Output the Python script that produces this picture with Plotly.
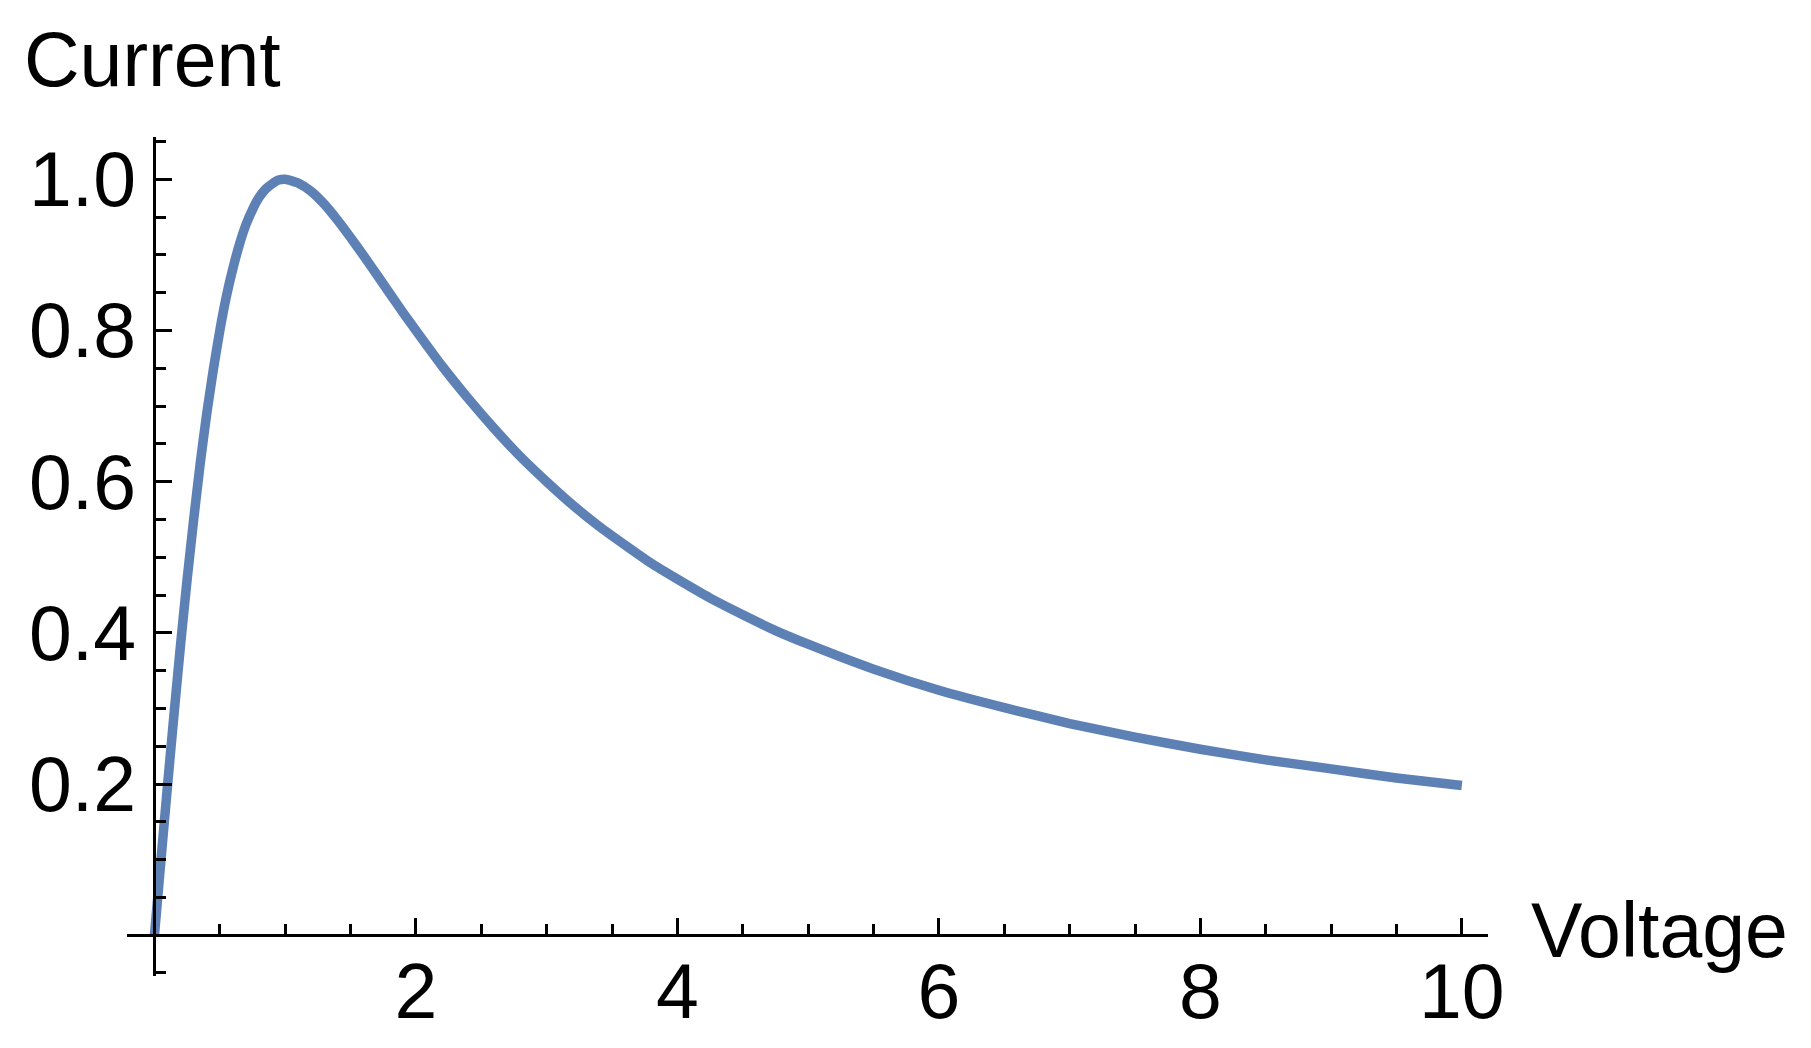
import plotly.graph_objects as go

# Data
voltage = [0, 0.05, 0.1, 0.15, 0.2, 0.25, 0.3, 0.35, 0.4, 0.45, 0.5, 0.55, 0.6, 0.65, 0.7,
           0.75, 0.8, 0.85, 0.9, 0.95, 1.0, 1.1, 1.2, 1.3, 1.4, 1.5, 1.6, 1.7, 1.8, 1.9,
           2.0, 2.2, 2.4, 2.6, 2.8, 3.0, 3.2, 3.4, 3.6, 3.8, 4.0, 4.25, 4.5, 4.75, 5.0,
           5.5, 6.0, 6.5, 7.0, 7.5, 8.0, 8.5, 9.0, 9.5, 10.0]
current = [0, 0.100, 0.198, 0.293, 0.385, 0.471, 0.550, 0.624, 0.690, 0.748, 0.800, 0.845, 0.882, 0.914, 0.940,
           0.960, 0.976, 0.987, 0.994, 0.999, 1.000, 0.995, 0.984, 0.967, 0.946, 0.923, 0.899, 0.874, 0.849, 0.824,
           0.800, 0.753, 0.710, 0.670, 0.633, 0.600, 0.569, 0.541, 0.516, 0.492, 0.471, 0.446, 0.424, 0.403, 0.385,
           0.352, 0.324, 0.301, 0.280, 0.262, 0.246, 0.232, 0.220, 0.208, 0.198]

x_ticks = [2, 4, 6, 8, 10]
x_ticklabels = ["2", "4", "6", "8", "10"]
y_ticks = [0.2, 0.4, 0.6, 0.8, 1.0]
y_ticklabels = ["0.2", "0.4", "0.6", "0.8", "1.0"]

x_title = "Voltage"
y_title = "Current"

# Layout geometry (pixels, page coordinates; the page body adds an 8px offset)
OFF = 8
W_FIG, H_FIG = 1811, 1048
PLOT_L, PLOT_R, PLOT_T, PLOT_B = 127 - OFF, 1488 - OFF, 137 - OFF, 976 - OFF
L, R, T, B = PLOT_L, W_FIG - PLOT_R, PLOT_T, H_FIG - PLOT_B
PW = W_FIG - L - R
PH = H_FIG - T - B
x_range = [-0.21, 10.2]
y_range = [-0.054, 1.056]

def px_x(p):
    return (p - OFF - L) / PW

def px_y(p):
    return (T + PH - (p - OFF)) / PH

FONT = "Liberation Sans, Arial, Helvetica, sans-serif"
LINE_COLOR = "#5E81B5"

fig = go.Figure()
fig.add_trace(go.Scatter(
    x=voltage, y=current, mode="lines",
    line=dict(color=LINE_COLOR, width=9.5, shape="spline", smoothing=0.5),
    showlegend=False, hoverinfo="skip",
))

pos_x_axis = (0 - y_range[0]) / (y_range[1] - y_range[0])
pos_y_axis = (0 - x_range[0]) / (x_range[1] - x_range[0])

fig.update_layout(
    width=W_FIG, height=H_FIG,
    margin=dict(l=L, r=R, t=T, b=B, pad=0, autoexpand=False),
    paper_bgcolor="white", plot_bgcolor="white",
    font=dict(family=FONT, size=77, color="black"),
    xaxis=dict(
        range=x_range, anchor="free", position=pos_x_axis, automargin=False,
        showgrid=False, zeroline=False,
        showline=True, linecolor="black", linewidth=3,
        tickmode="array", tickvals=x_ticks, ticktext=x_ticklabels,
        ticks="inside", ticklen=16, tickwidth=3, tickcolor="black",
        tickfont=dict(family=FONT, size=77, color="black"),
        ticklabelstandoff=-12,
        minor=dict(dtick=0.5, tick0=0, ticks="inside", ticklen=10, tickwidth=3,
                   tickcolor="black", showgrid=False),
        fixedrange=True,
    ),
    yaxis=dict(
        range=y_range, anchor="free", position=pos_y_axis, automargin=False,
        showgrid=False, zeroline=False,
        showline=True, linecolor="black", linewidth=3,
        tickmode="array", tickvals=y_ticks, ticktext=y_ticklabels,
        ticks="inside", ticklen=16, tickwidth=3, tickcolor="black",
        tickfont=dict(family=FONT, size=77, color="black"),
        ticklabelstandoff=2,
        minor=dict(dtick=0.05, tick0=0, ticks="inside", ticklen=10, tickwidth=3,
                   tickcolor="black", showgrid=False),
        fixedrange=True,
    ),
    annotations=[
        dict(text=y_title, xref="paper", yref="paper", x=px_x(22), y=px_y(59),
             xanchor="left", yanchor="middle", showarrow=False,
             font=dict(family=FONT, size=77, color="black")),
        dict(text=x_title, xref="paper", yref="paper", x=px_x(1529), y=px_y(930),
             xanchor="left", yanchor="middle", showarrow=False,
             font=dict(family=FONT, size=77, color="black")),
    ],
)

fig.write_html("out.html")
